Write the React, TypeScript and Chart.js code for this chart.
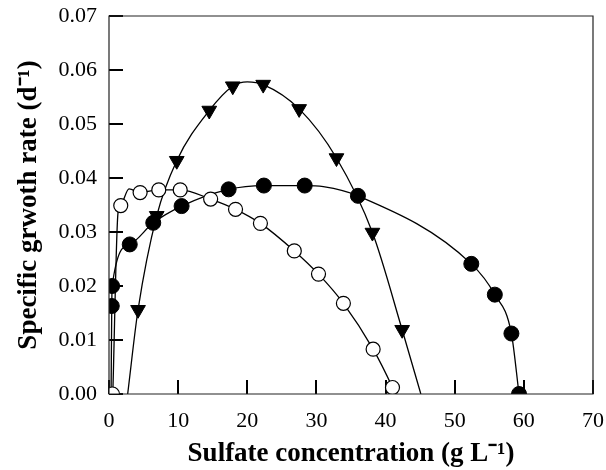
import React, { useEffect, useRef } from "react";
import { Chart, registerables } from "chart.js";

Chart.register(...registerables);

const xTicks = [0, 10, 20, 30, 40, 50, 60, 70];
const yTicks = [0, 0.01, 0.02, 0.03, 0.04, 0.05, 0.06, 0.07];

// measured points
const filledX = [0.4, 0.45, 3.0, 6.4, 10.5, 17.3, 22.4, 28.3, 36.0, 52.4, 55.8, 58.2, 59.3];
const filledY = [0.0163, 0.02, 0.0277, 0.0317, 0.0348, 0.0379, 0.0386, 0.0386, 0.0367, 0.0241, 0.0184, 0.0112, 0.0];

const openX = [0.5, 1.7, 4.5, 7.2, 10.3, 14.7, 18.3, 21.9, 26.8, 30.3, 33.9, 38.2, 41.0];
const openY = [0.0, 0.0349, 0.0373, 0.0378, 0.0378, 0.0361, 0.0342, 0.0316, 0.0265, 0.0222, 0.0168, 0.0083, 0.0012];

const triX = [4.2, 6.9, 9.8, 14.5, 17.9, 22.3, 27.5, 32.9, 38.1, 42.4];
const triY = [0.0156, 0.033, 0.0432, 0.0525, 0.057, 0.0573, 0.0528, 0.0437, 0.0299, 0.0119];

// fitted curves
const filledFitX = [0.3, 0.4, 0.45, 3.0, 6.4, 10.5, 17.3, 22.4, 28.3, 31.0, 36.0, 52.4, 55.8, 58.2, 59.3];
const filledFitY = [0.0, 0.0163, 0.02, 0.0277, 0.0317, 0.0348, 0.0379, 0.0386, 0.0386, 0.0384, 0.0367, 0.0241, 0.0184, 0.0112, 0.0];

const openFitX = [0.55, 1.3, 1.7, 2.9, 4.5, 7.2, 10.3, 14.7, 18.3, 21.9, 26.8, 30.3, 33.9, 38.2, 41.0, 41.4];
const openFitY = [0.0, 0.0335, 0.0349, 0.038, 0.0373, 0.0378, 0.0378, 0.0361, 0.0342, 0.0316, 0.0265, 0.0222, 0.0168, 0.0083, 0.0012, 0.0];

const triFitX = [2.7, 4.2, 6.9, 9.8, 14.5, 17.9, 20.0, 22.3, 27.5, 32.9, 38.1, 42.4, 45.1];
const triFitY = [0.0, 0.0156, 0.033, 0.0432, 0.0525, 0.057, 0.0578, 0.0573, 0.0528, 0.0437, 0.0299, 0.0119, 0.0];

const zip = (xs: number[], ys: number[]) => xs.map((x, i) => ({ x, y: ys[i] }));

const frame = {
  id: "frame",
  afterDraw(chart: any) {
    const ctx = chart.ctx as CanvasRenderingContext2D;
    const a = chart.chartArea;
    ctx.save();
    ctx.beginPath();
    ctx.lineWidth = 1.2;
    ctx.strokeStyle = "#222";
    ctx.rect(a.left, a.top, a.right - a.left, a.bottom - a.top);
    ctx.stroke();
    ctx.restore();
  },
};

export default function App() {
  const ref = useRef<HTMLCanvasElement | null>(null);
  useEffect(() => {
    if (!ref.current) return;
    const lineBase = {
      type: "line" as const,
      showLine: true,
      pointRadius: 0,
      borderColor: "#000",
      borderWidth: 1.3,
      cubicInterpolationMode: "monotone" as const,
      fill: false,
      order: 2,
    };
    const serif = "'Liberation Serif', 'Times New Roman', serif";
    const gridInward = {
      display: true,
      drawOnChartArea: false,
      drawTicks: true,
      tickLength: -14,
      tickWidth: 2,
      tickColor: "#000",
      color: "#000",
      lineWidth: 2,
    };
    const chart = new Chart(ref.current, {
      type: "scatter",
      data: {
        datasets: [
          {
            data: zip(openX, openY),
            pointStyle: "circle",
            pointRadius: 7,
            backgroundColor: "#fff",
            borderColor: "#000",
            borderWidth: 1.2,
            order: 0,
          } as any,
          {
            data: zip(filledX, filledY),
            pointStyle: "circle",
            pointRadius: 7.5,
            backgroundColor: "#000",
            borderColor: "#000",
            borderWidth: 1,
            order: 1,
          } as any,
          {
            data: zip(triX, triY),
            pointStyle: "triangle",
            rotation: 180,
            pointRadius: 8.5,
            backgroundColor: "#000",
            borderColor: "#000",
            borderWidth: 1,
            order: 1,
          } as any,
          { ...lineBase, data: zip(filledFitX, filledFitY) } as any,
          { ...lineBase, data: zip(openFitX, openFitY) } as any,
          { ...lineBase, data: zip(triFitX, triFitY) } as any,
        ],
      },
      options: {
        responsive: false,
        animation: false,
        layout: { padding: { left: 0, top: 16, right: 13, bottom: 0 } },
        plugins: { legend: { display: false }, tooltip: { enabled: false } },
        scales: {
          x: {
            type: "linear",
            min: 0,
            max: 70,
            afterBuildTicks: (s: any) => {
              s.ticks = xTicks.map((v) => ({ value: v }));
            },
            afterFit: (s: any) => {
              s.height = 76;
              s.paddingLeft = 0;
              s.paddingRight = 0;
            },
            grid: gridInward as any,
            border: { display: false },
            ticks: {
              color: "#000",
              padding: 28,
              font: { family: serif, size: 22 },
              callback: (v: any) => String(v),
            },
            title: {
              display: true,
              text: "Sulfate concentration (g L\u207B\u00B9)",
              color: "#000",
              padding: { top: 10, bottom: 0 },
              font: { family: serif, size: 27, weight: "bold" },
            },
          },
          y: {
            type: "linear",
            min: 0,
            max: 0.07,
            afterBuildTicks: (s: any) => {
              s.ticks = yTicks.map((v) => ({ value: v }));
            },
            afterFit: (s: any) => {
              s.width = 109;
              s.paddingTop = 0;
              s.paddingBottom = 0;
            },
            grid: gridInward as any,
            border: { display: false },
            ticks: {
              color: "#000",
              padding: 26,
              font: { family: serif, size: 22 },
              callback: (v: any) => Number(v).toFixed(2),
            },
            title: {
              display: true,
              text: "Specific grwoth rate (d\u207B\u00B9)",
              color: "#000",
              padding: { top: 13, bottom: 0 },
              font: { family: serif, size: 27, weight: "bold" },
            },
          },
        },
      },
      plugins: [frame],
    });
    return () => chart.destroy();
  }, []);
  return (
    <div style={{ position: "fixed", left: 0, top: 0, width: 606, height: 470, background: "#fff" }}>
      <canvas ref={ref} width={606} height={470} style={{ width: 606, height: 470 }} />
    </div>
  );
}
